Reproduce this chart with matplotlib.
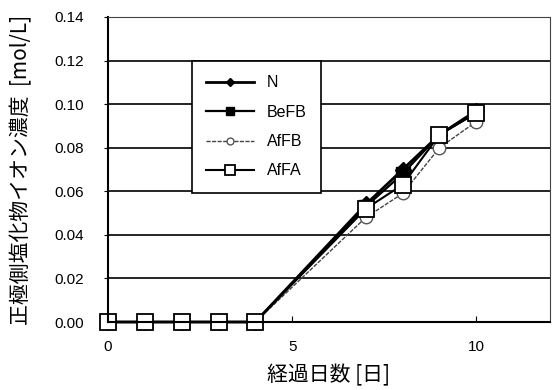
import matplotlib
matplotlib.use('Agg')
import matplotlib.pyplot as plt

plt.rcParams['font.family'] = ['Noto Sans CJK JP', 'DejaVu Sans']

# data
days = [0, 1, 2, 3, 4, 7, 8, 9, 10]
N = [0, 0, 0, 0, 0, 0.054, 0.070, 0.086, 0.097]
BeFB = [0, 0, 0, 0, 0, 0.053, 0.068, 0.086, 0.096]
AfFB = [0, 0, 0, 0, 0, 0.048, 0.059, 0.080, 0.092]
AfFA = [0, 0, 0, 0, 0, 0.052, 0.063, 0.086, 0.096]

yticks = [0.00, 0.02, 0.04, 0.06, 0.08, 0.10, 0.12, 0.14]
xticks = [0, 5, 10]

fig = plt.figure(figsize=(5.53, 3.90), dpi=100)
ax = fig.add_axes([108 / 553, 68 / 390, 442 / 553, 305 / 390])

ax.plot(days, N, color='black', lw=2, marker='D', ms=8, mfc='black', mec='black', label='N', clip_on=False)
ax.plot(days, BeFB, color='black', lw=1.6, marker='s', ms=10, mfc='black', mec='black', label='BeFB', clip_on=False)
ax.plot(days, AfFB, color='#444444', lw=1, ls=(0, (3, 1)), marker='o', ms=9, mfc='white', mec='#555555', label='AfFB', clip_on=False)
ax.plot(days, AfFA, color='black', lw=1.5, marker='s', ms=12, mfc='white', mec='black', mew=1.3, label='AfFA', clip_on=False)

ax.set_xlim(0, 12)
ax.set_ylim(0, 0.14)
ax.set_yticks(yticks)
ax.set_yticklabels(['%.2f' % v for v in yticks], family='Liberation Sans')
ax.set_xticks(xticks)
ax.set_xticklabels([str(v) for v in xticks], family='Liberation Sans')
ax.yaxis.grid(True, color='black', lw=1.2)
ax.set_axisbelow(True)
ax.tick_params(axis='x', direction='in', length=4, labelsize=11, pad=13)
ax.tick_params(axis='y', direction='out', length=3, labelsize=11, pad=14)
for s in ['left', 'bottom']:
    ax.spines[s].set_linewidth(1.5)
for s in ['top', 'right']:
    ax.spines[s].set_color('#444444')

ax.set_xlabel('経過日数 [日]', fontsize=15, labelpad=7)
ax.set_ylabel('正極側塩化物イオン濃度  [mol/L]', fontsize=15, labelpad=16)

leg = ax.legend(loc='upper left', bbox_to_anchor=(0.172, 0.882), fancybox=False,
                edgecolor='black', framealpha=1, markerscale=0.55,
                handlelength=3.0, labelspacing=0.9, borderpad=0.9,
                prop={'family': 'Liberation Sans', 'size': 11.5})
leg.get_frame().set_linewidth(1.2)

fig.savefig('out.png', dpi=100)
